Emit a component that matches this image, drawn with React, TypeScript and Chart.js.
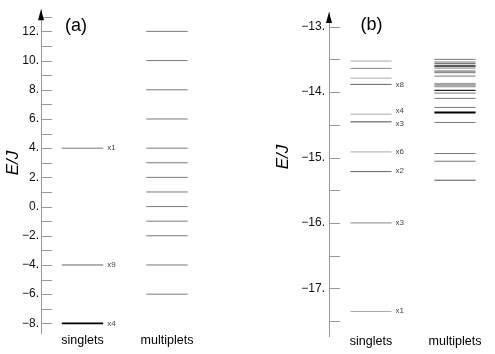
import React, { useEffect, useRef } from "react";
import { Chart, registerables } from "chart.js";

Chart.register(...registerables);

const FONT = '"Liberation Sans", Arial, Helvetica, sans-serif';

// ---- data ----
const categories = ["singlets", "multiplets"];

// panel (a)
const aSinglets = [4, -4, -8];
const aSingletLabels = ["x1", "x9", "x4"];
const aMultiplets = [12, 10, 8, 6, 4, 3, 2, 1, 0, -1, -2, -4, -6];

// panel (b)
const bSinglets = [-13.525, -13.637, -13.786, -13.882, -14.337, -14.454, -14.914, -15.215, -16.0, -17.354];
const bSingletLabels = ["", "", "", "x8", "x4", "x3", "x6", "x2", "x3", "x1"];
const bSingletLabelE = [null, null, null, -13.89, -14.29, -14.49, -14.92, -15.21, -16.0, -17.34];
const bMultiplets = [
  -13.499, -13.54, -13.566, -13.601, -13.632, -13.678, -13.703, -13.755,
  -13.867, -13.88, -13.893, -13.906, -13.918, -13.974, -14.015, -14.096,
  -14.234, -14.311, -14.464, -14.939, -15.057, -15.347,
];

// ---- styles (separate from data) ----
const aSingletColors = ["#777", "#666", "#000"];
const aSingletWidths = [1, 1, 1.6];
const bSingletColors = ["#aaa", "#888", "#aaa", "#666", "#aaa", "#888", "#aaa", "#666", "#888", "#aaa"];
const bSingletWidths = [1, 1, 1, 1, 1, 1.6, 1, 1, 1, 1];
const bMultipletColors = [
  "#777", "#777", "#555", "#222", "#777", "#555", "#777", "#777",
  "#999", "#999", "#999", "#999", "#999", "#222", "#777", "#777",
  "#777", "#000", "#777", "#777", "#777", "#555",
];
const bMultipletWidths = [
  1, 1, 1, 1.6, 1, 1, 1, 1,
  1, 1, 1, 1, 1, 1.4, 1, 1,
  1, 2, 1, 1, 1, 1,
];

const HALF = 0.245;

function fmt(v: number) {
  const r = Math.round(v);
  return (r < 0 ? "\u2212" : "") + Math.abs(r) + ".";
}

type PanelCfg = {
  singlets: number[];
  singletColors: string[];
  singletWidths: number[];
  singletLabels: string[];
  singletLabelE: (number | null)[];
  multiplets: number[];
  multipletColors: string[] | null;
  multipletWidths: number[] | null;
  yMin: number;
  yMax: number;
  step: number;
  major: number;
  xMin: number;
  xMax: number;
  axisWidth: number;
  labelPad: number;
  padTop: number;
  padRight: number;
  xAxisHeight: number;
  xLabelPad: number;
  tag: string;
  tagX: number;
  tagY: number;
  ejX: number;
  ejY: number;
};

function levelDataset(E: number, c: number, color: string, width: number) {
  return {
    data: [
      { x: c - HALF, y: E },
      { x: c + HALF, y: E },
    ],
    showLine: true,
    borderColor: color,
    backgroundColor: color,
    borderWidth: width,
    pointRadius: 0,
  };
}

function buildChart(canvas: HTMLCanvasElement, cfg: PanelCfg) {
  const datasets: any[] = [];
  cfg.singlets.forEach((E, i) =>
    datasets.push(levelDataset(E, 1, cfg.singletColors[i], cfg.singletWidths[i]))
  );
  cfg.multiplets.forEach((E, i) =>
    datasets.push(
      levelDataset(
        E,
        2,
        cfg.multipletColors ? cfg.multipletColors[i] : "#7a7a7a",
        cfg.multipletWidths ? cfg.multipletWidths[i] : 1
      )
    )
  );

  const decor = {
    id: "decor",
    afterDraw(chart: any) {
      const ctx = chart.ctx;
      const ys = chart.scales.y;
      const xs = chart.scales.x;
      const ax = ys.right;
      ctx.save();
      // inward tick marks
      ctx.strokeStyle = "#9a9a9a";
      ctx.lineWidth = 1;
      ctx.beginPath();
      ys.ticks.forEach((t: any) => {
        const y = Math.round(ys.getPixelForValue(t.value)) + 0.5;
        ctx.moveTo(ax, y);
        ctx.lineTo(ax + 11, y);
      });
      ctx.stroke();
      // arrow head
      const top = chart.chartArea.top;
      ctx.fillStyle = "#000";
      ctx.beginPath();
      ctx.moveTo(ax, top);
      ctx.lineTo(ax - 3, top + 11);
      ctx.lineTo(ax + 3, top + 11);
      ctx.closePath();
      ctx.fill();
      // multiplicity labels
      ctx.fillStyle = "#444";
      ctx.font = "8px " + FONT;
      ctx.textAlign = "left";
      ctx.textBaseline = "middle";
      const lx = xs.getPixelForValue(1 + HALF) + 4;
      cfg.singletLabels.forEach((s, i) => {
        const e = cfg.singletLabelE[i];
        if (!s || e === null) return;
        ctx.fillText(s, lx, ys.getPixelForValue(e));
      });
      // panel tag
      ctx.fillStyle = "#000";
      ctx.font = "18px " + FONT;
      ctx.textAlign = "center";
      ctx.fillText(cfg.tag, cfg.tagX, cfg.tagY);
      // axis title E/J
      ctx.translate(cfg.ejX, cfg.ejY);
      ctx.rotate(-Math.PI / 2);
      ctx.font = "italic 17px " + FONT;
      ctx.fillText("E/J", 0, 0);
      ctx.restore();
    },
  };

  return new Chart(canvas, {
    type: "scatter",
    data: { datasets },
    options: {
      animation: false,
      responsive: false,
      devicePixelRatio: 1,
      layout: { padding: { top: cfg.padTop, right: cfg.padRight, left: 0, bottom: 0 } },
      plugins: { legend: { display: false }, tooltip: { enabled: false }, title: { display: false } },
      scales: {
        x: {
          type: "linear",
          min: cfg.xMin,
          max: cfg.xMax,
          grid: { display: false, drawTicks: false },
          border: { display: false },
          afterBuildTicks: (s: any) => {
            s.ticks = categories.map((_, i) => ({ value: i + 1 }));
          },
          afterFit: (s: any) => {
            s.height = cfg.xAxisHeight;
          },
          ticks: {
            autoSkip: false,
            maxRotation: 0,
            padding: cfg.xLabelPad,
            color: "#000",
            font: { family: FONT, size: 12.5 },
            callback: (v: any) => categories[Math.round(v) - 1] ?? "",
          },
        },
        y: {
          type: "linear",
          min: cfg.yMin,
          max: cfg.yMax,
          grid: { display: false, drawTicks: false },
          border: { display: true, color: "#9a9a9a", width: 1 },
          afterFit: (s: any) => {
            s.width = cfg.axisWidth;
          },
          ticks: {
            stepSize: cfg.step,
            includeBounds: false,
            autoSkip: false,
            padding: cfg.labelPad,
            color: "#111",
            font: { family: FONT, size: 12 },
            callback: (v: any) => {
              const n = Number(v);
              return Math.abs(n / cfg.major - Math.round(n / cfg.major)) < 1e-6 ? fmt(n) : "";
            },
          },
        },
      },
    },
    plugins: [decor],
  } as any);
}

const panelA: PanelCfg = {
  singlets: aSinglets,
  singletColors: aSingletColors,
  singletWidths: aSingletWidths,
  singletLabels: aSingletLabels,
  singletLabelE: aSinglets,
  multiplets: aMultiplets,
  multipletColors: null,
  multipletWidths: null,
  yMin: -8.66,
  yMax: 13.52,
  step: 1,
  major: 2,
  xMin: 0.509,
  xMax: 2.864,
  axisWidth: 41,
  labelPad: 2,
  padTop: 7,
  padRight: 7,
  xAxisHeight: 21,
  xLabelPad: 0,
  tag: "(a)",
  tagX: 76,
  tagY: 26,
  ejX: 13,
  ejY: 163,
};

const panelB: PanelCfg = {
  singlets: bSinglets,
  singletColors: bSingletColors,
  singletWidths: bSingletWidths,
  singletLabels: bSingletLabels,
  singletLabelE: bSingletLabelE,
  multiplets: bMultiplets,
  multipletColors: bMultipletColors,
  multipletWidths: bMultipletWidths,
  yMin: -17.729,
  yMax: -12.775,
  step: 0.5,
  major: 1,
  xMin: 0.5,
  xMax: 2.381,
  axisWidth: 82,
  labelPad: 4,
  padTop: 12,
  padRight: 8,
  xAxisHeight: 18,
  xLabelPad: -2,
  tag: "(b)",
  tagX: 124.5,
  tagY: 25,
  ejX: 36.5,
  ejY: 157,
};

function Panel({ cfg, left, width }: { cfg: PanelCfg; left: number; width: number }) {
  const ref = useRef<HTMLCanvasElement>(null);
  useEffect(() => {
    if (!ref.current) return;
    const c = buildChart(ref.current, cfg);
    return () => c.destroy();
  }, [cfg]);
  return (
    <canvas
      ref={ref}
      width={width}
      height={354}
      style={{ position: "absolute", left, top: 0, width, height: 354 }}
    />
  );
}

export default function App() {
  return (
    <div style={{ position: "absolute", left: 0, top: 0, width: 495, height: 354, background: "#fff" }}>
      <Panel cfg={panelA} left={0} width={247} />
      <Panel cfg={panelB} left={247} width={248} />
    </div>
  );
}
